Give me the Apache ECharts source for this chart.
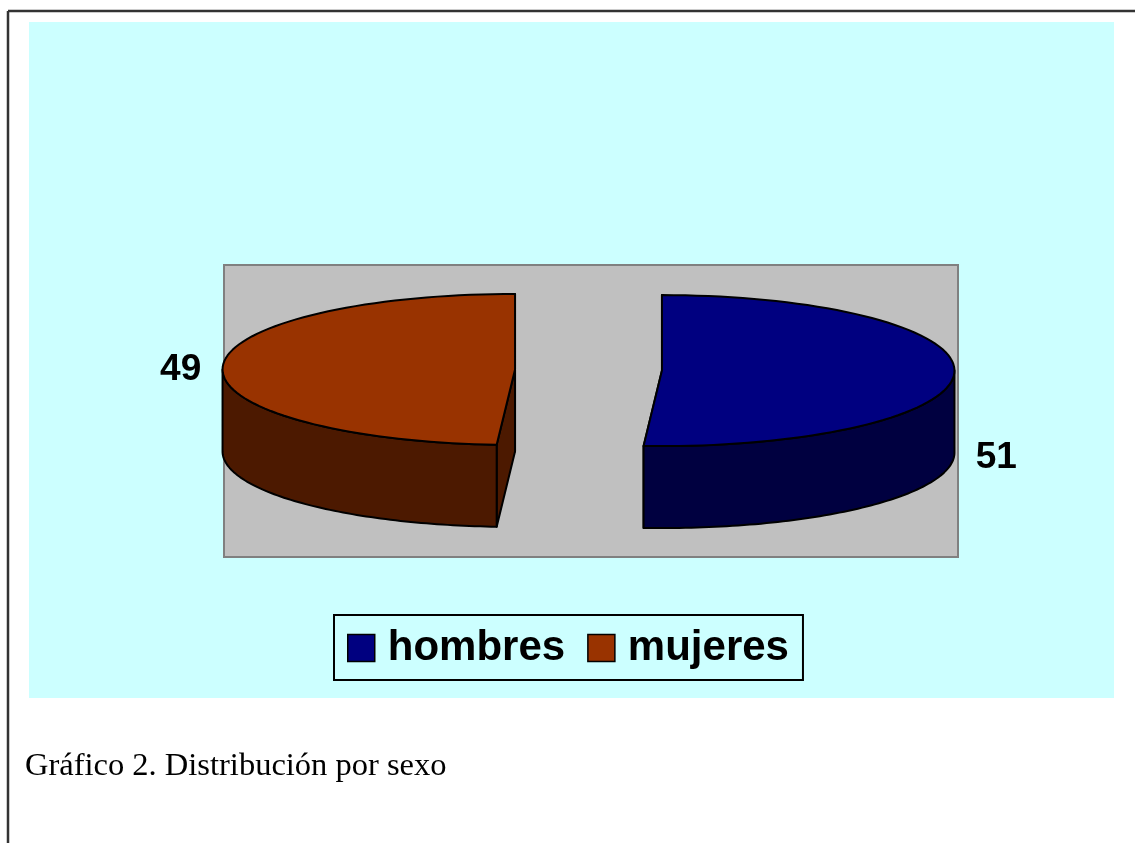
<!DOCTYPE html>
<html>
<head>
<meta charset="utf-8">
<script src="https://cdn.jsdelivr.net/npm/echarts@6/dist/echarts.min.js"></script>
<style>
html,body{margin:0;padding:0;background:#fff;}
#chart{width:1135px;height:843px;}
</style>
</head>
<body>
<div id="chart"></div>
<script>
// ---- data ----
const categories = ['hombres', 'mujeres'];
const values = [51, 49];
const topColors = ['#000080', '#993300'];
const sideColors = ['#000040', '#4C1900'];
const captionText = 'Gráfico 2. Distribución por sexo';

// ---- layout (pixels) ----
const L = { cx: 588.5, cy: 370, rx: 292.5, ry: 75.5, depth: 82, explode: 73.5, labelGap: 42 };

function sliceRenderer(idx) {
  return function (params, api) {
    const total = values.reduce((a, b) => a + b, 0);
    let start = 0;
    for (let i = 0; i < idx; i++) start += values[i];
    const v = api.value(0);
    const a0 = start / total * 2 * Math.PI;
    const a1 = (start + v) / total * 2 * Math.PI;
    const mid = (a0 + a1) / 2;
    const cx = L.cx + L.explode * Math.sin(mid);
    const cy = L.cy - L.explode * (L.ry / L.rx) * Math.cos(mid);
    const D = L.depth;
    const P = (a, d) => [cx + L.rx * Math.sin(a), cy - L.ry * Math.cos(a) + d];
    const arc = (s, e, d) => {
      const n = 80, pts = [];
      for (let k = 0; k <= n; k++) pts.push(P(s + (e - s) * k / n, d));
      return pts;
    };
    const stroke = { stroke: '#000', lineWidth: 2, lineJoin: 'round' };
    const side = sideColors[idx], top = topColors[idx];
    const children = [];
    // radial cut faces
    [a0, a1].forEach(a => {
      const p = P(a, 0);
      children.push({
        type: 'polygon',
        shape: { points: [[cx, cy], p, [p[0], p[1] + D], [cx, cy + D]] },
        style: Object.assign({ fill: side }, stroke)
      });
    });
    // outer curved side (front half only)
    const s = Math.max(a0, Math.PI / 2), e = Math.min(a1, 3 * Math.PI / 2);
    if (e > s) {
      const pts = arc(s, e, 0).concat(arc(e, s, D));
      children.push({ type: 'polygon', shape: { points: pts }, style: Object.assign({ fill: side }, stroke) });
    }
    // top face
    children.push({
      type: 'polygon',
      shape: { points: [[cx, cy]].concat(arc(a0, a1, 0)) },
      style: Object.assign({ fill: top }, stroke)
    });
    // value label
    const lx = cx + (L.rx + L.labelGap) * Math.sin(mid);
    const ly = cy - L.ry * Math.cos(mid) + (Math.sin(mid) > 0 ? D : 0) + 3;
    children.push({
      type: 'text',
      style: {
        text: String(v), x: lx, y: ly,
        fill: '#000', font: 'bold 37px "Liberation Sans", Arial, sans-serif',
        align: 'center', verticalAlign: 'middle'
      }
    });
    return { type: 'group', children: children };
  };
}

const chart = echarts.init(document.getElementById('chart'), null, { renderer: 'canvas' });
chart.setOption({
  backgroundColor: '#ffffff',
  animation: false,
  graphic: [
    { type: 'rect', z: -10, shape: { x: 29, y: 22, width: 1085, height: 676 }, style: { fill: '#CCFFFF' } },
    { type: 'rect', z: -9, shape: { x: 224, y: 265, width: 734, height: 292 }, style: { fill: '#C0C0C0', stroke: '#808080', lineWidth: 2 } },
    { type: 'line', z: -8, shape: { x1: 8, y1: 11, x2: 1135, y2: 11 }, style: { stroke: '#333', lineWidth: 2.5 } },
    { type: 'line', z: -8, shape: { x1: 8, y1: 11, x2: 8, y2: 843 }, style: { stroke: '#333', lineWidth: 2.5 } },
    { type: 'text', z: 10, style: { text: captionText, x: 25, y: 766, fill: '#000', font: '32.5px "Liberation Serif", "Times New Roman", serif', align: 'left', verticalAlign: 'middle' } }
  ],
  legend: {
    data: categories,
    left: 334, top: 615,
    orient: 'horizontal',
    padding: [12, 14, 11, 13],
    itemGap: 22,
    itemWidth: 27, itemHeight: 27,
    borderColor: '#000', borderWidth: 2,
    backgroundColor: 'transparent',
    icon: 'rect',
    selectedMode: false,
    itemStyle: { borderColor: '#000', borderWidth: 1.5 },
    textStyle: { fontSize: 42, fontWeight: 'bold', color: '#000', fontFamily: '"Liberation Sans", Arial, sans-serif', padding: [0, 0, 0, 8], lineHeight: 30 }
  },
  series: categories.map((name, i) => ({
    type: 'custom',
    name: name,
    coordinateSystem: 'none',
    itemStyle: { color: topColors[i] },
    data: [[values[i]]],
    renderItem: sliceRenderer(i)
  }))
});
</script>
</body>
</html>
